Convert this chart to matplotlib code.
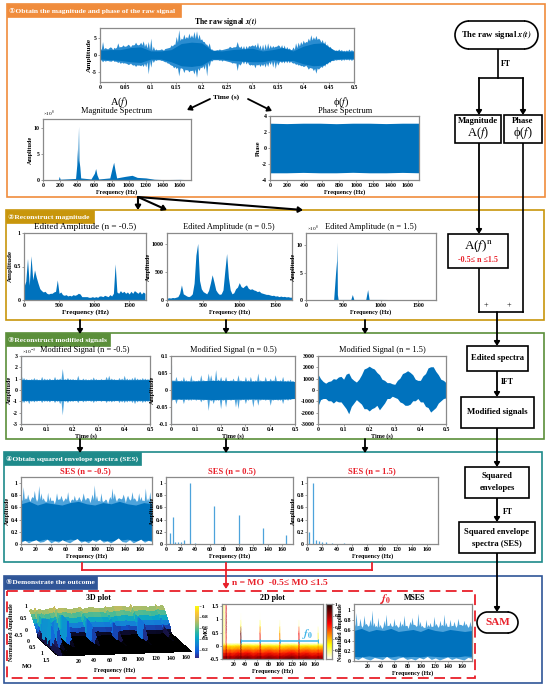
import numpy as np
import matplotlib
matplotlib.use('Agg')
import matplotlib.pyplot as plt
import matplotlib.patches as patches
from matplotlib.colors import LinearSegmentedColormap

plt.rcParams['font.family'] = ['Liberation Serif', 'DejaVu Sans']
plt.rcParams['mathtext.fontset'] = 'stix'

# ---- raw signal ----
raw_upper = [2.0,4.0,2.2,1.8,2.4,1.6,2.0,3.6,2.5,3.0,
             2.6,3.2,2.4,3.0,3.8,3.0,3.8,4.2,3.5,4.0,
             5.0,2.6,1.8,1.6,1.8,1.4,2.0,2.2,3.0,3.2,
             5.5,7.5,5.0,6.2,5.5,6.5,6.0,7.0,7.2,6.2,
             4.8,4.0,3.2,3.6,1.8,1.4,1.6,1.8,1.6,1.8,
             2.0,2.6,2.2,2.4,4.0,2.2,1.8,1.6,2.0,2.6,
             3.0,3.2,3.8,3.0,3.2,3.4,3.6,3.0,2.8,2.6,
             3.0,2.2,1.8,1.6,1.8,1.6,2.4,3.6,3.8,4.0,
             4.4,4.0,5.0,6.0,5.4,5.8,5.0,3.8,3.2,2.0,
             1.8,2.0,1.6,1.5,1.8,1.6,1.4,1.5,1.8,1.6,1.5]
raw_lower = [-1.5,-2.0,-1.8,-1.6,-1.8,-1.4,-1.8,-2.2,-2.5,-2.4,
             -2.4,-2.8,-2.4,-3.0,-3.4,-3.0,-3.2,-3.4,-3.5,-5.6,
             -3.6,-2.2,-1.6,-1.4,-1.6,-1.8,-2.0,-2.4,-3.0,-3.8,
             -4.0,-6.2,-3.8,-5.2,-4.4,-5.0,-4.6,-5.6,-6.6,-4.6,
             -3.8,-4.2,-6.2,-3.4,-1.8,-1.4,-1.4,-1.6,-1.8,-1.6,
             -1.8,-2.0,-2.4,-2.4,-4.6,-3.0,-1.8,-1.6,-2.0,-3.0,
             -3.0,-3.8,-3.0,-3.4,-3.2,-3.6,-3.4,-2.8,-3.6,-4.0,
             -3.0,-1.8,-1.6,-1.4,-1.6,-1.8,-2.4,-2.8,-3.0,-3.2,
             -3.4,-3.0,-4.2,-3.8,-4.6,-5.4,-4.2,-3.4,-2.8,-2.0,
             -1.6,-1.4,-1.6,-1.5,-1.4,-1.6,-1.5,-1.4,-1.5,-1.6,-1.5]
raw_valley_upper = [1.6,2.2,2.4,3.0,3.2,1.4,1.6,2.4,4.6,5.2,4.4,1.4,1.6,2.4,2.8,2.8,1.4,2.2,3.2,1.4,3.4,4.6,4.6,1.4,1.2,1.2]
raw_valley_lower = [-1.4,-1.8,-2.0,-2.8,-3.0,-1.4,-1.4,-3.0,-4.0,-4.6,-3.4,-1.4,-1.4,-2.2,-2.6,-2.8,-2.6,-1.6,-2.4,-2.2,-3.2,-4.0,-3.6,-1.4,-1.2,-1.2]
raw_core_upper = [1.4,1.6,1.6,2.2,2.4,1.2,1.2,1.6,3.4,3.8,3.6,1.4,1.2,1.6,1.8,2.0,1.2,1.6,2.2,1.2,2.6,3.4,3.6,1.4,1.0,1.0]
raw_core_lower = [-1.2,-1.4,-1.6,-2.0,-2.2,-1.2,-1.2,-2.0,-3.2,-3.4,-3.0,-1.2,-1.2,-1.6,-1.8,-2.0,-2.0,-1.4,-1.8,-1.6,-2.6,-3.2,-3.0,-1.2,-1.0,-1.0]

# ---- spectra ----
mag_freq = [0,180,190,200,380,395,400,405,415,420,430,440,560,600,615,630,650,780,810,825,840,860,960,1040,1100,1200,1300,1400,1600,1720]
mag_amp = [0.05,0.1,0.7,0.15,0.3,3,6,3.2,10.3,3.8,2.5,0.4,0.2,1.3,2.2,1,0.2,0.4,2.5,3.4,2,0.4,0.7,0.9,0.5,0.4,0.15,0.08,0.12,0.05]
phase_upper = [3.1,3.05,3.1,3.1,3.04,3.1,3.1,3.05,3.1,3.1]
phase_lower = [-3.1,-3.1,-3.05,-3.1,-3.1,-3.04,-3.1,-3.1,-3.05,-3.1]

# Edited spectra, one value every 25 Hz
edit_a_amp = [.2,.28,.62,.22,.66,.3,.45,.34,.25,.17,.14,.12,.13,.1,.09,.1,.1,.12,.13,.3,.1,.12,.08,.07,.08,.06,.07,.06,.08,.07,
              .08,.1,.09,.05,.05,.05,.05,.04,.04,.05,.04,.05,.04,.06,.06,.05,.07,.06,.05,.08,.06,.1,.54,.12,.1,.14,.11,.13,.1,.12,
              .09,.13,.1,.14,.12,.1,.13,.09,.12,.1]
edit_b_amp = [30,40,35,45,40,50,60,120,270,110,90,70,60,75,110,300,800,1010,350,200,150,130,110,170,300,450,320,180,130,100,
              110,180,520,830,400,180,110,130,200,230,310,240,220,250,270,210,190,200,180,170,150,160,130,120,110,100,100,90,80,85,
              70,75,60,70,60,65,55,60,50,50]
edit_freq_max = 1725
edit_c_freq = [0,370,395,410,415,420,430,600,620,640,800,825,845,1000,1730]
edit_c_amp = [0.05,0.05,4.8,7.2,10.5,1.0,0.1,0.1,1.0,0.1,0.1,1.9,0.1,0.1,0.03]

# ---- modified signals ----
sig_a_upper = [1.4,1.1,1.0,.95,1.0,1.1,1.0,.95,1.2,1.05,1.0,1.05,.95,1.2,1.0,1.05,1.9,1.0,1.1,1.0,
               1.0,.95,1.3,.95,1.05,1.0,.95,1.0,1.15,1.0,.95,1.0,.95,1.2,1.3,1.05,1.0,.95,1.1,1.05,
               1.3,1.05,1.0,1.1,1.2,1.05,1.0,1.1,1.05,1.0,1.1]
sig_a_lower = [-1.3,-1.1,-1.0,-1.2,-1.0,-1.05,-1.0,-.95,-1.1,-1.0,-1.0,-1.05,-.95,-1.1,-1.0,-1.2,-2.2,-1.0,-1.1,-1.0,
               -1.0,-.95,-1.1,-.95,-1.05,-1.0,-.95,-1.0,-1.1,-1.0,-.95,-1.0,-.95,-1.1,-1.0,-1.05,-1.0,-.95,-1.1,-1.05,
               -1.1,-1.05,-1.0,-1.1,-1.2,-1.05,-1.0,-1.1,-1.05,-1.0,-1.1]
sig_a_core = [0.92,0.9,0.93,0.9,0.92,0.9,0.92]
sig_a_start = [-3,3]
sig_b_upper = [.035,.03,.04,.028,.03,.04,.03,.028,.045,.03,.028,.03,.045,.03,.028,.05,.045,.03,.06,.032,
               .04,.03,.04,.028,.03,.035,.028,.045,.03,.028,.04,.03,.04,.028,.03,.05,.03,.028,.04,.028,
               .035,.03,.045,.028,.03,.04,.028,.03,.032,.028,.025]
sig_b_lower = [-.035,-.028,-.04,-.025,-.028,-.04,-.028,-.03,-.03,-.028,-.03,-.028,-.035,-.03,-.028,-.06,-.032,-.04,-.03,-.03,
               -.055,-.03,-.05,-.028,-.03,-.028,-.05,-.055,-.03,-.028,-.04,-.03,-.028,-.05,-.03,-.045,-.03,-.028,-.03,-.028,
               -.045,-.03,-.028,-.03,-.03,-.04,-.028,-.03,-.028,-.025,-.025]
sig_b_core = [0.027,0.026,0.028,0.027,0.026,0.027,0.025]
sig_b_start = [-.1,.075]
sig_c_upper = [1400,1000,750,600,750,800,1000,950,1150,1200,950,1400,1500,1050,850,700,950,1350,1850,1950,
               2100,1950,1850,1550,1350,950,850,650,650,550,500,850,1050,1450,1550,1700,1550,1350,950,850,
               850,1250,1450,1950,2050,2050,1650,1350,950,850,650]
sig_c_lower = [-1400,-850,-750,-750,-950,-950,-1150,-950,-1050,-1050,-1350,-1650,-2100,-1450,-1150,-850,-1050,-1250,-1650,-1650,
               -1850,-1650,-1550,-1350,-1750,-1450,-1150,-750,-750,-550,-650,-750,-1050,-1150,-1350,-1350,-1250,-950,-950,-750,
               -1050,-1050,-1450,-1550,-1950,-1750,-1550,-1150,-950,-750,-700]

# ---- squared envelope spectra ----
ses_a_upper = [.72,.94,.76,.82,.70,.78,.88,.70,.96,.84,.76,.70,.85,.78,.72,.66,.84,.74,.80,.70,
               .76,.86,.68,.74,.80,.72,.78,.70,.84,.72,.76,.68,.82,.97,.80,.72,.84,.70,.74,.66,
               .78,.92,.84,.70,.76,.74,.82,.68,.80,.72,.86,.76,.70,.84,.78,.72,.92,.76,.86,.70]
ses_a_valley = [.72,.76,.7,.74,.72,.76,.7,.74,.76,.72,.7]
ses_a_lower = [.03,.06,.02,.05,.07,.03,.04,.08,.02,.05,.03,.07,.04,.02,.06,.09,.03,.05,.02,.07,
               .04,.08,.03,.05,.02,.06,.10,.04,.03,.07,.02,.05,.08,.03,.06,.04]
ses_a_core_top = [.66,.7,.64,.68,.66,.64,.68,.7,.66,.64,.68,.66,.7,.66,.64,.68,.66]
ses_a_core_bot = [.05,.06,.05,.08,.06,.05,.08,.06,.05,.07,.06,.05,.06,.08,.05,.06,.06]
ses_b_freq = [5,9,13,16,20,25,33,40,66,100,133,166]
ses_b_amp = [.18,.45,.04,.03,.03,.07,1.0,.02,.63,.47,.27,.15]
ses_c_freq = [3,7.5,12,16,20,25,33,50]
ses_c_amp = [.2,1.0,.07,.05,.03,.04,.01,.01]

# ---- MSES ----
mses_upper = [.78,.95,.70,.84,.66,.90,.74,.68,.82,1.0,.76,.70,.86,.72,.64,.80,.92,.70,.76,.68,
              .84,.72,.66,.80,.74,.90,.70,.64,.78,.86,.72,.68,.94,.78,.70,.66,.82,.72,.76,.68,
              .88,.74,.66,.80,.72,.92,.76,.68,.82,.70,.78,.66,.84,.72,.70,.80,.74,.66,.78,.70]
mses_valley = [.68,.72,.66,.7,.68,.72,.66,.7,.68,.72,.68]
mses_lower = [.06,.03,.08,.04,.02,.07,.05,.03,.09,.04,.02,.06,.08,.03,.05,.02,.07,.04,.09,.03,.06,.02,.05,.08,.03,.06,.04,.02,.07,.05]
mses_core_top = [.6,.64,.58,.62,.6,.64,.58,.6,.62,.58,.64,.6,.58,.62,.6,.58,.6]
mses_core_bot = [.09,.08,.1,.08,.09,.08,.1,.08,.09,.08,.1,.09,.08,.09,.08,.1,.09]

# ---- MO / frequency table, 3D and 2D plot ----
table_freq = [1,2.5,4,5.5,6,7.5,9,10,14,16,18,24,30,31.5,33,34.5,36,44,54,62,64.5,66,67.5,70,80,90,98.5,100,101.5,110,120,131.5,133,134.5,145,155,164.5,166,167.5,175]
table_mo = [-0.5,-0.375,-0.25,-0.125,0,0.06,0.12,0.5,0.75,1.0,1.25,1.58]
table_amp = [
 [.82,.86,.80,.84,.80,.92,.84,.80,.86,.82,.80,.84,.88,.80,.94,.82,.84,.88,.80,.86,.82,.90,.84,.80,.86,.82,.80,.90,.82,.86,.88,.80,.92,.82,.86,.80,.82,.88,.82,.84],
 [.70,.74,.68,.72,.70,.85,.72,.68,.74,.70,.68,.72,.76,.70,.85,.72,.72,.76,.68,.74,.70,.80,.72,.68,.74,.70,.68,.78,.70,.72,.76,.68,.82,.70,.74,.68,.70,.76,.70,.72],
 [.56,.60,.55,.58,.56,.75,.58,.55,.60,.56,.55,.58,.62,.56,.78,.58,.58,.62,.55,.60,.56,.72,.58,.55,.60,.56,.55,.66,.56,.58,.62,.55,.72,.56,.60,.55,.56,.62,.56,.58],
 [.42,.46,.42,.44,.44,.70,.44,.42,.46,.42,.42,.44,.46,.42,.78,.44,.44,.46,.42,.46,.42,.68,.44,.42,.46,.42,.42,.56,.42,.44,.46,.42,.66,.42,.46,.42,.42,.50,.42,.44],
 [.28,.30,.40,.30,.30,.65,.30,.28,.30,.28,.28,.30,.32,.28,.80,.30,.30,.32,.28,.30,.28,.66,.30,.28,.30,.28,.28,.50,.28,.30,.32,.28,.62,.28,.30,.28,.28,.34,.28,.30],
 [.12,.14,.30,.14,.14,.60,.14,.12,.14,.12,.12,.14,.15,.12,.85,.14,.14,.15,.12,.14,.12,.68,.14,.12,.14,.12,.12,.50,.12,.14,.15,.12,.66,.12,.14,.12,.12,.30,.12,.14],
 [0,0,.20,0,0,.55,0,0,0,0,0,0,0,0,.88,0,0,0,0,0,0,.68,0,0,0,0,0,.50,0,0,0,0,.68,0,0,0,0,.28,0,0],
 [0,0,.20,0,0,.70,0,0,0,0,0,0,0,0,.85,0,0,0,0,0,0,.55,0,0,0,0,0,.35,0,0,0,0,.62,0,0,0,0,.12,0,0],
 [0,0,.20,0,0,.78,0,0,0,0,0,0,0,0,.20,0,0,0,0,0,0,.25,0,0,0,0,0,.08,0,0,0,0,.08,0,0,0,0,0,0,0],
 [0,0,.20,0,0,.75,0,0,0,0,0,0,0,0,.02,0,0,0,0,0,0,.01,0,0,0,0,0,0,0,0,0,0,0,0,0,0,0,0,0,0],
 [0,0,.20,0,0,.70,0,0,0,0,0,0,0,0,0,0,0,0,0,0,0,0,0,0,0,0,0,0,0,0,0,0,0,0,0,0,0,0,0,0],
 [0,0,.20,0,0,.68,0,0,0,0,0,0,0,0,0,0,0,0,0,0,0,0,0,0,0,0,0,0,0,0,0,0,0,0,0,0,0,0,0,0],
]
# two ridges stand out more in the 3D view than in the 2D view
surf_ridge_7 = [.9,.85,.8,.75,.7,.7,.75,.95,.8,.4,.1,.02]
surf_ridge_16 = [.8,.7,.6,.5,.4,.4,.5,.9,.7,.2,.03,0]
harmonics = [33,66,100,133,166]

BLUE = '#0072BD'
MID = '#2A8CD0'
LIGHT = '#4DA3DB'
RED = '#E8202A'
W, H = 550, 689

parula = LinearSegmentedColormap.from_list('parula', ['#352A87','#0F5CDD','#1481D6','#06A4CA','#2EB7A4','#87BF77','#D1BB59','#FEC832','#F9FB0E'])
surf_cmap = LinearSegmentedColormap.from_list('surf', [(0,'#000000'),(0.05,'#05051c'),(0.14,'#241f6a'),(0.25,'#0F5CDD'),(0.37,'#1481D6'),(0.48,'#06A4CA'),(0.6,'#2EB7A4'),(0.72,'#87BF77'),(0.84,'#D1BB59'),(0.93,'#FEC832'),(1,'#F9FB0E')])

fig = plt.figure(figsize=(5.5, 6.89), dpi=100)
bg = fig.add_axes([0, 0, 1, 1])
bg.set_xlim(0, W)
bg.set_ylim(H, 0)
bg.set_xticks([])
bg.set_yticks([])
bg.axis('off')


def px_ax(x0, y0, x1, y1):
    ax = fig.add_axes([x0/W, 1-y1/H, (x1-x0)/W, (y1-y0)/H])
    for s in ax.spines.values():
        s.set_color('#8a8a8a')
        s.set_linewidth(0.9)
    ax.tick_params(labelsize=4.2, length=1.2, width=0.4, pad=1, color='#555555')
    return ax


def finish(ax, xlabel, ylabel, xlim, ylim, xticks, yticks, ylabs=None, xlabs=None, size=4.4, lpad=0.5, ypad=0.5):
    ax.set_xlim(xlim)
    ax.set_ylim(ylim)
    ax.set_xticks(xticks)
    ax.set_yticks(yticks)
    ax.set_xticklabels(xlabs if xlabs else [str(v) for v in xticks], fontweight='bold')
    ax.set_yticklabels(ylabs if ylabs else [str(v) for v in yticks], fontweight='bold')
    ax.set_xlabel(xlabel, fontsize=size, fontweight='bold', labelpad=lpad)
    ax.set_ylabel(ylabel, fontsize=size, fontweight='bold', labelpad=ypad)


# solid block with sharp tips: the read envelope at each step, falling back
# to the read valley levels half a step later
def spikes(ax, x0, x1, upper, lower, valley_up, valley_low, color=LIGHT):
    t = np.linspace(x0, x1, len(upper))
    step = t[1]-t[0]
    half = t+step/2
    vu = np.interp(half, np.linspace(x0, x1, len(valley_up)), valley_up)
    vl = np.interp(half, np.linspace(x0, x1, len(valley_low)), valley_low)
    xs = np.column_stack((t, half)).ravel()
    ax.fill_between(xs, np.column_stack((lower, vl)).ravel(), np.column_stack((upper, vu)).ravel(), color=color, lw=0)


def core(ax, x0, x1, top, bot):
    ax.fill_between(np.linspace(x0, x1, len(top)), bot, top, color=BLUE, lw=0)


def frame(x0, y0, x1, y1, color, tab_w, label):
    bg.add_patch(patches.Rectangle((x0, y0), x1-x0, y1-y0, fc='none', ec=color, lw=1.2))
    bg.add_patch(patches.Rectangle((x0, y0), tab_w, 13, fc=color, ec=color, lw=0.5))
    bg.text(x0+2, y0+6.8, label, color='white', fontsize=5.4, fontweight='bold', va='center', ha='left')


def arrow(x0, y0, x1, y1, color='k', lw=1.3, ms=5):
    bg.annotate('', xy=(x1, y1), xytext=(x0, y0), arrowprops=dict(arrowstyle='-|>,head_width=0.16,head_length=0.25', color=color, lw=lw, shrinkA=0, shrinkB=0, mutation_scale=ms*2))


def line(xs, ys, color='k', lw=1.2):
    bg.plot(xs, ys, color=color, lw=lw, solid_capstyle='projecting')


def box(x0, y0, x1, y1):
    bg.add_patch(patches.Rectangle((x0, y0), x1-x0, y1-y0, fc='white', ec='k', lw=1.2, zorder=4))


def pill(x0, y0, x1, y1):
    r = (y1-y0)/2
    bg.add_patch(patches.Rectangle((x0+r, y0), x1-x0-2*r, y1-y0, fc='white', ec='none', zorder=4))
    for cx, a0, a1 in [(x0+r, 90, 270), (x1-r, 270, 90)]:
        bg.add_patch(patches.Ellipse((cx, y0+r), 2*r, 2*r, fc='white', ec='none', zorder=4))
        bg.add_patch(patches.Arc((cx, y0+r), 2*r, 2*r, theta1=a0, theta2=a1, ec='k', lw=1.2, zorder=4))
    bg.plot([x0+r, x1-r], [y0, y0], color='k', lw=1.2, zorder=4)
    bg.plot([x0+r, x1-r], [y1, y1], color='k', lw=1.2, zorder=4)


def flow_text(x, y, s, size=6.2, color='k', weight='bold'):
    bg.text(x, y, s, fontsize=size, color=color, fontweight=weight, ha='center', va='center', zorder=5)


# ---- panel frames ----
frame(7, 4, 545, 197, '#F08C3C', 174, '①Obtain the magnitude and phase of the raw signal')
frame(6, 210, 544, 320, '#C8960C', 88, '②Reconstruct magnitude')
frame(6, 333, 544, 439, '#5B8F3A', 104, '③Reconstruct modified signals')
frame(4, 452, 542, 562, '#1E8A8A', 137, '④Obtain squared envelope spectra (SES)')
frame(4, 576, 542, 683, '#2F5597', 93, '⑤Demonstrate the outcome')
bg.add_patch(patches.Rectangle((7, 591), 468, 87, fc='none', ec=RED, lw=1.3, ls=(0, (6, 3))))

# ---- panel 1 ----
ax = px_ax(100, 28, 354, 82)
spikes(ax, 0, 0.5, raw_upper, raw_lower, raw_valley_upper, raw_valley_lower, color=MID)
core(ax, 0, 0.5, raw_core_upper, raw_core_lower)
finish(ax, '', 'Amplitude', (0, 0.5), (-8, 8), [0,0.05,0.1,0.15,0.2,0.25,0.3,0.35,0.4,0.45,0.5], [-5,0,5], size=5.4, ypad=0)
bg.text(226, 22.5, r'The raw signal $\mathbfit{x(t)}$', fontsize=5.6, fontweight='bold', ha='center', va='center')
bg.text(226, 97, 'Time (s)', fontsize=5.4, fontweight='bold', ha='center', va='center')
arrow(210, 99, 187, 110)
arrow(248, 99, 272, 111)

ax = px_ax(43, 119, 191, 180)
ax.fill_between(mag_freq, 0, mag_amp, color=BLUE, lw=0)
finish(ax, 'Frequency (Hz)', 'Amplitude', (0, 1728), (0, 11.7), [0,200,400,600,800,1000,1200,1400,1600], [0,5,10])
bg.text(43, 114, r'×10$^{8}$', fontsize=3.8, ha='left', va='center')
bg.text(119, 102, r'A($f$)', fontsize=7.5, ha='center', va='center')
bg.text(117, 111, 'Magnitude Spectrum', fontsize=6, ha='center', va='center')

ax = px_ax(270, 116, 419, 180)
ax.fill_between(np.linspace(0, 1728, len(phase_upper)), phase_lower, phase_upper, color=BLUE, lw=0)
finish(ax, 'Frequency (Hz)', 'Phase', (0, 1728), (-4, 4), [0,200,400,600,800,1000,1200,1400,1600], [-4,-2,0,2,4])
bg.text(341, 102, r'ϕ($f$)', fontsize=7.5, ha='center', va='center')
bg.text(345, 111, 'Phase Spectrum', fontsize=6, ha='center', va='center')

# ---- panel 2 ----
arrow(138, 197, 138, 210, lw=1.5)
arrow(138, 197, 167, 210, lw=1.5)
arrow(138, 197, 303, 210, lw=1.5)

ax = px_ax(24, 233, 146, 300)
ax.fill_between(np.linspace(0, edit_freq_max, len(edit_a_amp)), 0, edit_a_amp, color=BLUE, lw=0)
finish(ax, 'Frequency (Hz)', 'Amplitude', (0, 1740), (0, 1), [0,500,1000,1500], [0,0.5,1], ylabs=['0','0.5','1'], size=5)
bg.text(85, 227, 'Edited Amplitude (n = -0.5)', fontsize=6.6, ha='center', va='center')

ax = px_ax(167, 233, 292, 300)
ax.fill_between(np.linspace(0, edit_freq_max, len(edit_b_amp)), 0, edit_b_amp, color=BLUE, lw=0)
finish(ax, 'Frequency (Hz)', 'Amplitude', (0, 1730), (0, 1196), [0,500,1000,1500], [0,500,1000])
bg.text(229, 227, 'Edited Amplitude (n = 0.5)', fontsize=6, ha='center', va='center')

ax = px_ax(306, 233, 436, 300)
ax.fill_between(edit_c_freq, 0, edit_c_amp, color=BLUE, lw=0)
finish(ax, 'Frequency (Hz)', 'Amplitude', (0, 1740), (0, 12.2), [0,500,1000,1500], [0,5,10])
bg.text(307, 229, r'×10$^{8}$', fontsize=3.8, ha='left', va='center')
bg.text(371, 227, 'Edited Amplitude (n = 1.5)', fontsize=6, ha='center', va='center')

# ---- panel 3 ----
for x in [80, 226, 365]:
    arrow(x, 320, x, 334)
    arrow(x, 439, x, 453)

ax = px_ax(21, 356, 150, 424)
spikes(ax, 0, 0.5, sig_a_upper, sig_a_lower, sig_a_core, [-v for v in sig_a_core])
core(ax, 0, 0.5, sig_a_core, [-v for v in sig_a_core])
ax.vlines(0, sig_a_start[0], sig_a_start[1], color=LIGHT, lw=0.8)
finish(ax, 'Time (s)', 'Amplitude', (0, 0.5), (-3, 3), [0,0.1,0.2,0.3,0.4,0.5], [-3,-2,-1,0,1,2,3])
bg.text(22, 352, r'×10$^{-3}$', fontsize=3.8, ha='left', va='center')
bg.text(85, 350, 'Modified Signal (n = -0.5)', fontsize=6, ha='center', va='center')

ax = px_ax(171, 356, 295, 424)
spikes(ax, 0, 0.5, sig_b_upper, sig_b_lower, sig_b_core, [-v for v in sig_b_core])
core(ax, 0, 0.5, sig_b_core, [-v for v in sig_b_core])
ax.vlines(0, sig_b_start[0], sig_b_start[1], color=LIGHT, lw=0.8)
finish(ax, 'Time (s)', 'Amplitude', (0, 0.5), (-0.1, 0.1), [0,0.1,0.2,0.3,0.4,0.5], [-0.1,-0.05,0,0.05,0.1])
bg.text(233, 350, 'Modified Signal (n = 0.5)', fontsize=6, ha='center', va='center')

ax = px_ax(318, 356, 446, 424)
ax.fill_between(np.linspace(0, 0.5, len(sig_c_upper)), sig_c_lower, sig_c_upper, color=BLUE, lw=0)
finish(ax, 'Time (s)', '', (0, 0.5), (-3000, 3000), [0,0.1,0.2,0.3,0.4,0.5], [-3000,-2000,-1000,0,1000,2000,3000])
bg.text(382, 350, 'Modified Signal (n = 1.5)', fontsize=6, ha='center', va='center')

# ---- panel 4 ----
ax = px_ax(21, 477, 152, 544)
spikes(ax, 0, 176, ses_a_upper, [0]*len(ses_a_upper), ses_a_valley, [0])
core(ax, 0, 176, ses_a_core_top, ses_a_core_bot)
ax.fill_between(np.linspace(0, 176, len(ses_a_lower)), 0, ses_a_lower, color='white', lw=0)
finish(ax, 'Frequency (Hz)', 'Amplitude', (0, 176), (0, 1.1), list(range(0, 161, 20)), [0,0.2,0.4,0.6,0.8,1], ylabs=['0','0.2','0.4','0.6','0.8','1'])
bg.text(85, 471, 'SES (n = -0.5)', fontsize=6.2, color=RED, fontweight='bold', ha='center', va='center')

ax = px_ax(166, 477, 293, 544)
ax.vlines(ses_b_freq, 0, ses_b_amp, color=LIGHT, lw=0.9)
ax.axhline(0.008, color=LIGHT, lw=0.5)
finish(ax, 'Frequency (Hz)', 'Amplitude', (0, 175), (0, 1.1), list(range(0, 161, 20)), [0,0.2,0.4,0.6,0.8,1], ylabs=['0','0.2','0.4','0.6','0.8','1'])
bg.text(232, 471, 'SES (n = 0.5)', fontsize=6.2, color=RED, fontweight='bold', ha='center', va='center')

ax = px_ax(307, 477, 438, 544)
ax.vlines(ses_c_freq, 0, ses_c_amp, color=LIGHT, lw=0.9)
ax.axhline(0.008, color=LIGHT, lw=0.5)
finish(ax, 'Frequency (Hz)', 'Amplitude', (0, 175), (0, 1.1), list(range(0, 161, 20)), [0,0.2,0.4,0.6,0.8,1], ylabs=['0','0.2','0.4','0.6','0.8','1'])
bg.text(372, 471, 'SES (n = 1.5)', fontsize=6.2, color=RED, fontweight='bold', ha='center', va='center')

# ---- red bracket ----
line([82, 372], [570, 570], color=RED, lw=1.3)
for x in [82, 226, 372]:
    line([x, x], [563, 570], color=RED, lw=1.3)
arrow(226, 570, 226, 589, color=RED, lw=1.3)
bg.text(232, 583, 'n = MO  -0.5≤ MO ≤1.5', fontsize=6.8, color=RED, fontweight='bold', ha='left', va='center')

# ---- panel 5, 3D plot ----
F, M = np.meshgrid(table_freq, table_mo)
Z = np.array(table_amp)
Z3 = Z.copy()
Z3[:, table_freq.index(7.5)] = surf_ridge_7
Z3[:, table_freq.index(16)] = surf_ridge_16
ax3 = fig.add_axes([-8/W, 1-747/H, 230/W, 230/H], projection='3d', computed_zorder=False)
ax3.patch.set_alpha(0)
ax3.set_proj_type('ortho')
ax3.set_box_aspect((135, 147, 24.4), zoom=0.857)
ax3.view_init(elev=10, azim=-101)
ax3.plot_surface(F, M, Z3, cmap=surf_cmap, vmin=0, vmax=1, rstride=1, cstride=1, linewidth=0, antialiased=False, shade=False)
ax3.set_xlim(0, 175)
ax3.set_ylim(1.58, -0.5)
ax3.set_zlim(0, 1)
ax3.set_axis_off()
for f in range(20, 161, 20):
    ax3.text(f, 2.05, 0, str(f), fontsize=4.2, fontweight='bold', ha='center', va='center')
for m in [-0.5, 0, 0.5, 1, 1.5]:
    ax3.text(-8, m, -0.2, str(m).replace('.0', ''), fontsize=4.2, fontweight='bold', ha='right', va='center')
for z in [0, 0.5, 1]:
    ax3.text(-2, -0.5, z, str(z), fontsize=4.2, fontweight='bold', ha='right', va='center')
bg.text(27, 666, 'MO', fontsize=4.4, fontweight='bold', ha='center', va='center')
bg.text(115, 670, 'Frequency (Hz)', fontsize=4.4, fontweight='bold', ha='center', va='center')
bg.text(12, 632, 'Normalized Amplitude', fontsize=4.2, fontweight='bold', ha='center', va='center', rotation=90)
bg.text(98, 598, '3D plot', fontsize=5.8, fontweight='bold', ha='center', va='center')

cax = px_ax(195, 606, 199, 658)
grad = np.linspace(0, 1, 128).reshape(-1, 1)
cax.imshow(grad, aspect='auto', origin='lower', cmap=parula, extent=(0, 1, 0.05, 1))
cax.set_xticks([])
cax.yaxis.tick_right()
cax.set_yticks([0.2, 0.4, 0.6, 0.8, 1])
cax.set_yticklabels(['0.2', '0.4', '0.6', '0.8', '1'], fontweight='bold', fontsize=3.8)
for s in cax.spines.values():
    s.set_visible(False)

# ---- 2D plot ----
ax = px_ax(222, 604, 323, 659)
ax.pcolormesh(table_freq, table_mo, Z, cmap='hot_r', vmin=0, vmax=1, shading='gouraud', rasterized=True)
finish(ax, 'Frequency (Hz)', 'MO', (0, 174), (-0.5, 1.58), list(range(20, 161, 20)), [-0.5,0,0.5,1,1.5], ylabs=['-0.5','0','0.5','1','1.5'])
ax.hlines(0.17, 33, 166, color='#3FB4E8', lw=1.1)
ax.plot(harmonics, [0.17]*len(harmonics), '|', color='#3FB4E8', ms=2.5, mew=0.7)
ax.text(148, 0.46, r'$\mathbfit{f}_{\mathbf{0}}$', fontsize=8, color='#3FB4E8', ha='center', va='center')
bg.text(273, 598, '2D plot', fontsize=5.8, fontweight='bold', ha='center', va='center')

cax = px_ax(326, 604, 332, 659)
cax.imshow(grad, aspect='auto', origin='lower', cmap='hot_r', extent=(0, 1, 0.05, 1))
cax.set_xticks([])
cax.yaxis.tick_right()
cax.set_yticks([0.2, 0.4, 0.6, 0.8, 1])
cax.set_yticklabels(['0.2', '0.4', '0.6', '0.8', '1'], fontweight='bold', fontsize=3.8)

# ---- MSES ----
ax = px_ax(354, 604, 472, 661)
spikes(ax, 0, 175, mses_upper, [0]*len(mses_upper), mses_valley, [0])
core(ax, 0, 175, mses_core_top, mses_core_bot)
ax.fill_between(np.linspace(0, 175, len(mses_lower)), 0, mses_lower, color='white', lw=0)
finish(ax, 'Frequency (Hz)', 'Normalized Amplitude', (0, 175), (0, 1.12), list(range(20, 161, 20)), [0,0.2,0.4,0.6,0.8,1], ylabs=['0','0.2','0.4','0.6','0.8','1'])
ax.yaxis.label.set_size(4.2)
bg.text(415, 598, 'MSES', fontsize=5.8, fontweight='bold', ha='center', va='center')
bg.text(386, 599, r'$\mathbfit{f}_{\mathbf{0}}$', fontsize=8, color=RED, ha='center', va='center')
arrow(383, 601, 377, 609, color=RED, lw=0.8, ms=3)

# ---- flow chart on the right ----
line([498, 498], [49, 78])
line([479, 523], [78, 78])
arrow(479, 78, 479, 115)
arrow(523, 78, 523, 115)
arrow(479, 143, 479, 234)
line([523, 523], [143, 312])
line([479, 479], [268, 312])
line([479, 523], [312, 312])
arrow(497, 312, 497, 346)
arrow(497, 371, 497, 397)
arrow(497, 428, 497, 467)
arrow(497, 498, 497, 522)
arrow(497, 553, 497, 612)

pill(455, 21, 538, 49)
flow_text(496.5, 35, r'The raw signal $\mathbfit{x(t)}$')
flow_text(506, 64, 'FT', size=5.6)
box(455, 115, 501, 143)
flow_text(478, 121, 'Magnitude')
flow_text(478, 133, r'A($f$)', size=9, weight='normal')
box(504, 115, 542, 143)
flow_text(523, 121, 'Phase')
flow_text(523, 133, r'ϕ($f$)', size=9, weight='normal')
box(448, 234, 508, 268)
flow_text(478, 246, r'A($f$)$^{\rm n}$', size=9.5, weight='normal')
flow_text(478, 260, '-0.5≤ n ≤1.5', size=5.8, color=RED)
flow_text(486, 305, '+', size=6, weight='normal')
flow_text(509, 305, '+', size=6, weight='normal')
box(467, 346, 528, 371)
flow_text(497.5, 358.5, 'Edited spectra')
flow_text(507, 382, 'IFT', size=5.6)
box(461, 397, 534, 428)
flow_text(497.5, 412.5, 'Modified signals')
box(465, 467, 529, 498)
flow_text(497, 476.5, 'Squared')
flow_text(497, 488.5, 'envelopes')
flow_text(508, 512, 'FT', size=5.6)
box(459, 522, 535, 553)
flow_text(497, 532, 'Squared envelope')
flow_text(497, 543.5, 'spectra (SES)')
pill(477, 612, 518, 633)
flow_text(497.5, 622.5, 'SAM', size=8, color=RED)

fig.savefig('out.png', dpi=100)
